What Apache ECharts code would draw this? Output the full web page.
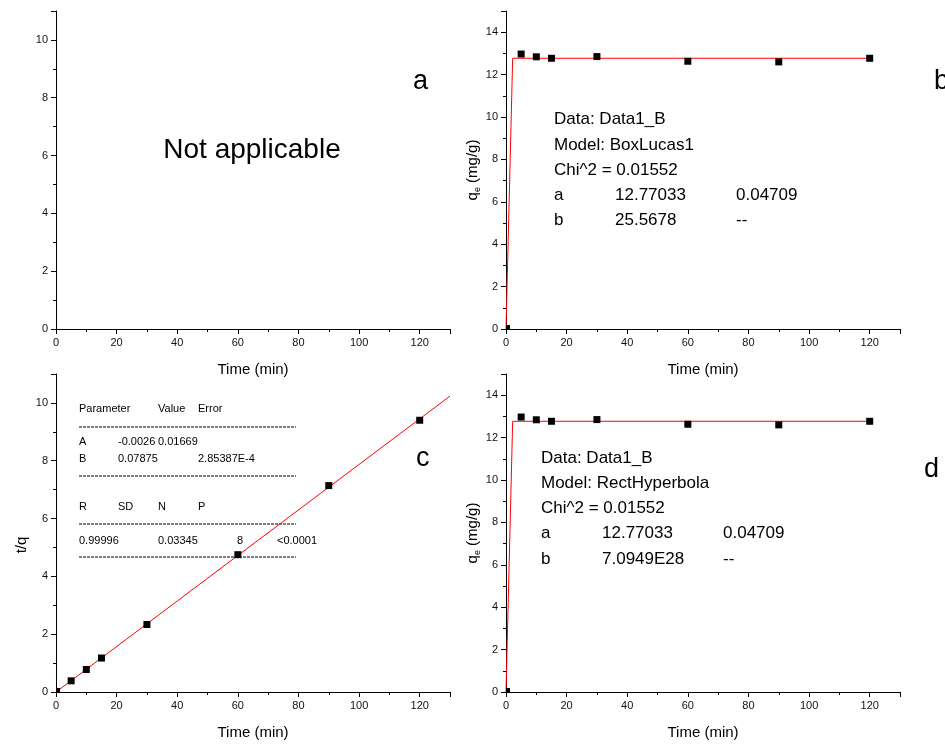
<!DOCTYPE html>
<html>
<head>
<meta charset="utf-8">
<script src="https://cdn.jsdelivr.net/npm/echarts@6/dist/echarts.min.js"></script>
<style>
html,body{margin:0;padding:0;background:#fff;}
#chart{width:945px;height:744px;}
</style>
</head>
<body>
<div id="chart"></div>
<script>
// ---- data ----
var times = [0, 5, 10, 15, 30, 60, 90, 120];
var qt = [0, 12.97, 12.84, 12.77, 12.85, 12.63, 12.60, 12.77];
var tOverQ = [0, 0.386, 0.779, 1.175, 2.335, 4.75, 7.14, 9.40];
var fitTime = [0, 2.2, 120];
var fitQ = [0, 12.77, 12.77];
var linTime = [0, 130];
var linTQ = [-0.0026, 10.235];
var xTicks = [0, 20, 40, 60, 80, 100, 120];

var FONT = '"Liberation Sans", Arial, sans-serif';

function pairs(xs, ys, originSmall) {
  return xs.map(function (x, i) {
    var item = { value: [x, ys[i]] };
    if (originSmall && x === 0) { item.symbolSize = 4; item.symbolOffset = [2, -2]; }
    return item;
  });
}

function xAxisCfg(g) {
  return {
    gridIndex: g, type: 'value', min: 0, max: 130, interval: 20,
    axisLine: { show: true, onZero: false, lineStyle: { color: '#000', width: 1 } },
    axisTick: { show: true, length: 5, inside: false, lineStyle: { color: '#000' } },
    minorTick: { show: true, splitNumber: 2, length: 3, lineStyle: { color: '#000' } },
    splitLine: { show: false },
    axisLabel: { fontSize: 11, color: '#111', margin: 8, fontFamily: FONT, showMaxLabel: false,
      formatter: function (v) { return xTicks.indexOf(v) >= 0 ? String(v) : ''; } },
    name: 'Time (min)', nameLocation: 'middle', nameGap: 33,
    nameTextStyle: { fontSize: 15, color: '#000', fontFamily: FONT }
  };
}
function yAxisCfg(g, max, name, gap, rich, pad) {
  var a = {
    gridIndex: g, type: 'value', min: 0, max: max, interval: 2,
    axisLine: { show: true, onZero: false, lineStyle: { color: '#000', width: 1 } },
    axisTick: { show: true, length: 5, inside: false, lineStyle: { color: '#000' } },
    minorTick: { show: true, splitNumber: 2, length: 3, lineStyle: { color: '#000' } },
    splitLine: { show: false },
    axisLabel: { fontSize: 11, color: '#111', margin: 8, fontFamily: FONT, showMaxLabel: false },
    name: name, nameLocation: 'middle', nameGap: gap, nameRotate: 90,
    nameTextStyle: { fontSize: 15, color: '#000', fontFamily: FONT }
  };
  if (rich) a.nameTextStyle.rich = rich;
  if (pad) a.nameTextStyle.padding = pad;
  return a;
}

var qeRich = {
  m: { fontSize: 15, color: '#000', fontFamily: FONT, lineHeight: 18 },
  s: { fontSize: 9, color: '#000', fontFamily: FONT, lineHeight: 8, verticalAlign: 'bottom' }
};

function txt(x, y, s, size, align) {
  return { type: 'text', x: x, y: y, silent: true,
    style: { text: s, fill: '#000', font: size + 'px ' + FONT,
      textAlign: align || 'left', textVerticalAlign: 'middle', align: align || 'left', verticalAlign: 'middle' } };
}
function dash(x1, x2, y) {
  return { type: 'line', silent: true, shape: { x1: x1, y1: y, x2: x2, y2: y },
    style: { stroke: '#000', lineWidth: 1, lineDash: [3, 1] } };
}

var graphics = [
  txt(252, 150, 'Not applicable', 28, 'center'),
  txt(413, 82, 'a', 27), txt(934, 82, 'b', 27), txt(416, 459, 'c', 27), txt(924, 470, 'd', 27),
  // panel b
  txt(554, 119, 'Data: Data1_B', 17), txt(554, 145, 'Model: BoxLucas1', 17), txt(554, 170, 'Chi^2 = 0.01552', 17),
  txt(554, 195, 'a', 17), txt(615, 195, '12.77033', 17), txt(736, 195, '0.04709', 17),
  txt(554, 220, 'b', 17), txt(615, 220, '25.5678', 17), txt(736, 220, '--', 17),
  // panel d
  txt(541, 458, 'Data: Data1_B', 17), txt(541, 483, 'Model: RectHyperbola', 17), txt(541, 508, 'Chi^2 = 0.01552', 17),
  txt(541, 533, 'a', 17), txt(602, 533, '12.77033', 17), txt(723, 533, '0.04709', 17),
  txt(541, 559, 'b', 17), txt(602, 559, '7.0949E28', 17), txt(723, 559, '--', 17),
  // panel c table
  txt(79, 409, 'Parameter', 11), txt(158, 409, 'Value', 11), txt(198, 409, 'Error', 11),
  dash(79, 296, 427),
  txt(79, 442, 'A', 11), txt(118, 442, '-0.0026', 11), txt(158, 442, '0.01669', 11),
  txt(79, 459, 'B', 11), txt(118, 459, '0.07875', 11), txt(198, 459, '2.85387E-4', 11),
  dash(79, 296, 476),
  txt(79, 507, 'R', 11), txt(118, 507, 'SD', 11), txt(158, 507, 'N', 11), txt(198, 507, 'P', 11),
  dash(79, 296, 524),
  txt(79, 541, '0.99996', 11), txt(158, 541, '0.03345', 11), txt(237, 541, '8', 11), txt(277, 541, '<0.0001', 11),
  dash(79, 296, 557)
];

var scatterStyle = { type: 'scatter', symbol: 'rect', symbolSize: 7, itemStyle: { color: '#000', opacity: 1 }, z: 3 };
function scat(g, ys) {
  return Object.assign({}, scatterStyle, { xAxisIndex: g, yAxisIndex: g, data: pairs(times, ys, true) });
}
function fit(g, xs, ys) {
  return { type: 'line', xAxisIndex: g, yAxisIndex: g, data: pairs(xs, ys, false), showSymbol: false,
    symbol: 'none', lineStyle: { color: '#ff0000', width: 1 }, itemStyle: { color: '#ff0000' }, z: 2, clip: true };
}

var option = {
  backgroundColor: '#fff',
  animation: false,
  grid: [
    { left: 56, top: 11, width: 394, height: 318 },
    { left: 506, top: 11, width: 394, height: 318 },
    { left: 56, top: 374, width: 394, height: 318 },
    { left: 506, top: 374, width: 394, height: 318 }
  ],
  xAxis: [xAxisCfg(0), xAxisCfg(1), xAxisCfg(2), xAxisCfg(3)],
  yAxis: [
    yAxisCfg(0, 11, '', 28),
    yAxisCfg(1, 15, '{m|q}{s|e}{m| (mg/g)}', 22, qeRich),
    yAxisCfg(2, 11, 't/q', 27, null, [0, 24, 0, 0]),
    yAxisCfg(3, 15, '{m|q}{s|e}{m| (mg/g)}', 22, qeRich)
  ],
  series: [
    fit(1, fitTime, fitQ), scat(1, qt),
    fit(2, linTime, linTQ), scat(2, tOverQ),
    fit(3, fitTime, fitQ), scat(3, qt)
  ],
  graphic: graphics
};

var chart = echarts.init(document.getElementById('chart'), null, { renderer: 'canvas' });
chart.setOption(option);
</script>
</body>
</html>
